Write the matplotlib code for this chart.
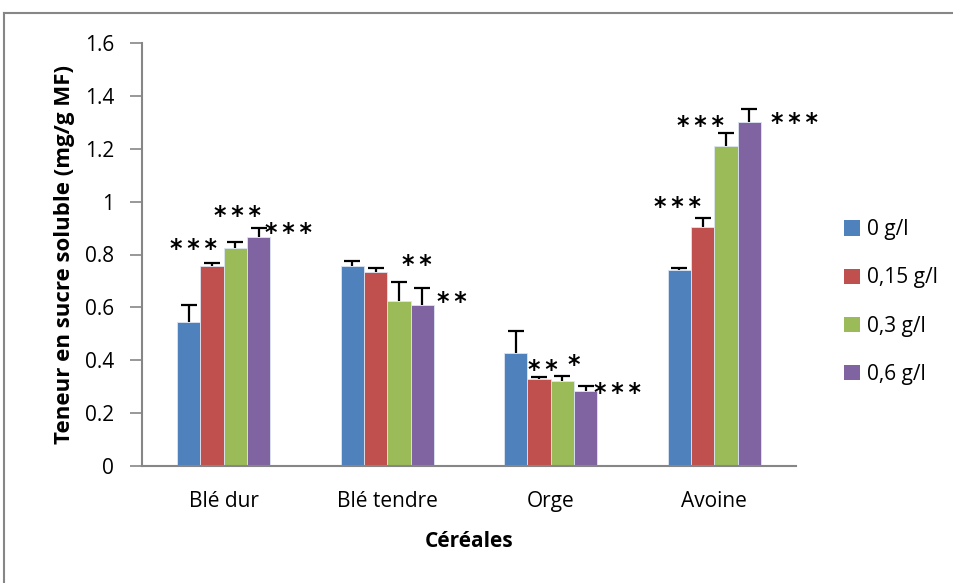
import matplotlib
matplotlib.use("Agg")
import matplotlib.pyplot as plt
from matplotlib.patches import Patch
from matplotlib.lines import Line2D
import numpy as np

plt.rcParams['font.family'] = ['Open Sans', 'DejaVu Sans']

categories = ["Blé dur", "Blé tendre", "Orge", "Avoine"]
series_labels = ["0 g/l", "0,15 g/l", "0,3 g/l", "0,6 g/l"]
colors = ["#4F81BD", "#C0504D", "#9BBB59", "#8064A2"]

# mean soluble sugar content (mg/g MF) per dose, one list per dose
dose_0 = [0.546, 0.756, 0.426, 0.740]
dose_015 = [0.756, 0.735, 0.330, 0.903]
dose_03 = [0.823, 0.625, 0.321, 1.209]
dose_06 = [0.867, 0.610, 0.285, 1.302]

# standard errors (upper bars only)
err_0 = [0.063, 0.020, 0.085, 0.008]
err_015 = [0.010, 0.015, 0.008, 0.034]
err_03 = [0.023, 0.072, 0.020, 0.049]
err_06 = [0.035, 0.064, 0.018, 0.049]

# significance marks: (text, x, y) in data units
star_text = ["***", "***", "***", "**", "**", "**", "*", "***", "***", "***", "***"]
star_x = [-0.182, 0.087, 0.399, 1.180, 1.394, 1.953, 2.138, 2.411, 2.778, 2.913, 3.491]
star_y = [0.820, 0.945, 0.881, 0.759, 0.622, 0.365, 0.383, 0.277, 0.979, 1.285, 1.298]

yticks = [0, 0.2, 0.4, 0.6, 0.8, 1, 1.2, 1.4, 1.6]
ytick_labels = ["0", "0.2", "0.4", "0.6", "0.8", "1", "1.2", "1.4", "1.6"]

values = [dose_0, dose_015, dose_03, dose_06]
errors = [err_0, err_015, err_03, err_06]

W, H = 954, 583
fig = plt.figure(figsize=(W / 100, H / 100), dpi=100)
ax = fig.add_axes([142 / W, 1 - 466 / H, 654 / W, (466 - 43) / H])

x = np.arange(len(categories))
bw = 1 / 7
for i, (vals, errs) in enumerate(zip(values, errors)):
    pos = x + (i - 1.5) * bw
    vals = np.asarray(vals)
    errs = np.asarray(errs)
    ax.bar(pos, vals, width=bw, color=colors[i], edgecolor="#DCE6F2",
           linewidth=0.6, label=series_labels[i], zorder=2)
    # upper error bar: stem plus a single cap at the top
    ax.vlines(pos, vals, vals + errs, color="black", linewidth=1.6, zorder=3)
    ax.plot(pos, vals + errs, linestyle="none", marker="_", markersize=11,
            markeredgewidth=1.6, color="black", zorder=3)

for t, sx, sy in zip(star_text, star_x, star_y):
    spaced = "\u2009".join(t)
    ax.text(sx, sy, spaced, ha="center", va="center", fontsize=17, color="black",
            family="DejaVu Sans", fontweight="bold")

ax.set_xlim(-0.5, 3.5)
ax.set_ylim(0, 1.6)
ax.set_yticks(yticks)
ax.set_yticklabels(ytick_labels, fontsize=15)
ax.set_xticks(x)
ax.set_xticklabels(categories, fontsize=15)
ax.tick_params(axis="x", length=0, pad=18)
ax.tick_params(axis="y", length=9, width=1.2, color="#868686", pad=11)

for side in ["top", "right"]:
    ax.spines[side].set_visible(False)
for side in ["left", "bottom"]:
    ax.spines[side].set_color("#868686")
    ax.spines[side].set_linewidth(1.5)

ax.set_ylabel("Teneur en sucre soluble (mg/g MF)", fontsize=16, fontweight="bold", labelpad=7)
ax.set_xlabel("Céréales", fontsize=15, fontweight="bold", labelpad=14)

handles = [Patch(facecolor=c, edgecolor="none") for c in colors]
fig.legend(handles, series_labels, loc="center left", bbox_to_anchor=(836 / W, 1 - 302 / H),
           frameon=False, fontsize=15, handlelength=0.75, handleheight=0.75,
           handletextpad=0.35, labelspacing=1.3, borderaxespad=0)

# outer chart frame (left and top edges)
fig.add_artist(Line2D([4.5 / W, 4.5 / W], [0, 1 - 13 / H], transform=fig.transFigure,
                      color="#868686", linewidth=1.5))
fig.add_artist(Line2D([4.5 / W, 1], [1 - 13 / H, 1 - 13 / H], transform=fig.transFigure,
                      color="#868686", linewidth=1.5))

fig.savefig("out.png", dpi=100)
